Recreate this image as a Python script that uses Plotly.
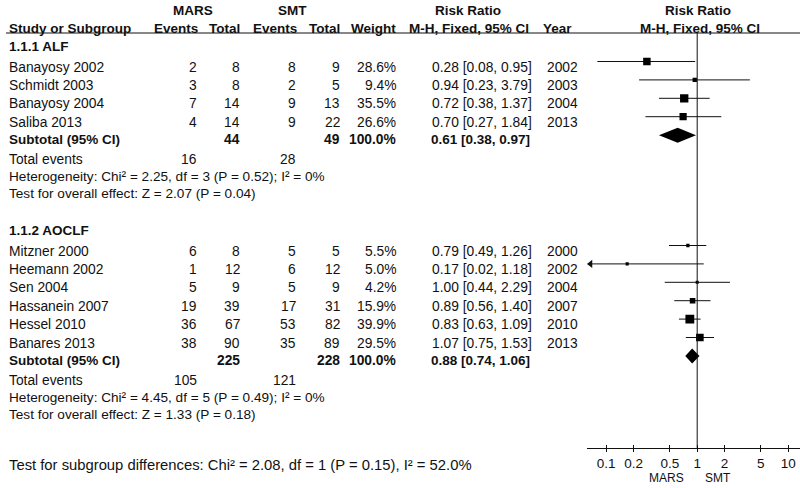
import numpy as np
import plotly.graph_objs as go

# ---- values ----
alf_studies = ["Banayosy 2002", "Schmidt 2003", "Banayosy 2004", "Saliba 2013"]
alf_mars_events = [2, 3, 7, 4]
alf_mars_total = [8, 8, 14, 14]
alf_smt_events = [8, 2, 9, 9]
alf_smt_total = [9, 5, 13, 22]
alf_weight = [28.6, 9.4, 35.5, 26.6]
alf_rr = [0.28, 0.94, 0.72, 0.70]
alf_lo = [0.08, 0.23, 0.38, 0.27]
alf_hi = [0.95, 3.79, 1.37, 1.84]
alf_year = [2002, 2003, 2004, 2013]
alf_sub = [0.61, 0.38, 0.97]
alf_het = "Heterogeneity: Chi² = 2.25, df = 3 (P = 0.52); I² = 0%"
alf_test = "Test for overall effect: Z = 2.07 (P = 0.04)"

aoclf_studies = ["Mitzner 2000", "Heemann 2002", "Sen 2004", "Hassanein 2007", "Hessel 2010", "Banares 2013"]
aoclf_mars_events = [6, 1, 5, 19, 36, 38]
aoclf_mars_total = [8, 12, 9, 39, 67, 90]
aoclf_smt_events = [5, 6, 5, 17, 53, 35]
aoclf_smt_total = [5, 12, 9, 31, 82, 89]
aoclf_weight = [5.5, 5.0, 4.2, 15.9, 39.9, 29.5]
aoclf_rr = [0.79, 0.17, 1.00, 0.89, 0.83, 1.07]
aoclf_lo = [0.49, 0.02, 0.44, 0.56, 0.63, 0.75]
aoclf_hi = [1.26, 1.18, 2.29, 1.40, 1.09, 1.53]
aoclf_year = [2000, 2002, 2004, 2007, 2010, 2013]
aoclf_sub = [0.88, 0.74, 1.06]
aoclf_het = "Heterogeneity: Chi² = 4.45, df = 5 (P = 0.49); I² = 0%"
aoclf_test = "Test for overall effect: Z = 1.33 (P = 0.18)"

subgroup_test = "Test for subgroup differences: Chi² = 2.08, df = 1 (P = 0.15), I² = 52.0%"

tick_vals = [0.1, 0.2, 0.5, 1, 2, 5, 10]
tick_text = ["0.1", "0.2", "0.5", "1", "2", "5", "10"]

# ---- page geometry (pixels) ----
W, H = 800, 488
FONT = "Liberation Sans, Arial, sans-serif"
SIZE = 13.8
HEAD = 13.5
INK = "#111111"
AXIS_Y = 448          # row of the forest x axis
X_ONE = 697.2         # pixel column of RR = 1
PX_DEC = 91.0         # pixels per decade
X_LEFT = 587.3        # left end of the forest axis
log_min = (X_LEFT - X_ONE) / PX_DEC
log_max = (W - X_ONE) / PX_DEC
MARK_UP = 5.5         # marks sit a little above the text centre

annotations = []


def text(x, y, s, anchor="right", bold=False, size=SIZE):
    annotations.append(dict(
        x=x, y=y, xref="x", yref="y", text="<b>%s</b>" % s if bold else s,
        xanchor=anchor, yanchor="middle", showarrow=False,
        font=dict(family=FONT, size=size, color=INK)
    ))


def ci_label(rr, lo, hi):
    return "%.2f [%.2f, %.2f]" % (rr, lo, hi)


traces = []


def draw_group(title, top, studies, me, mt, se, st, w, rr, lo, hi, yr, sub, het, test):
    text(7, top, title, anchor="left", bold=True, size=HEAD)
    rows = [top + 21 + 18.4 * i for i in range(len(studies))]
    for i, y in enumerate(rows):
        text(7, y, studies[i], anchor="left")
        text(199, y, str(me[i]))
        text(242, y, str(mt[i]))
        text(298, y, str(se[i]))
        text(342, y, str(st[i]))
        text(398, y, "%.1f%%" % w[i])
        text(534, y, ci_label(rr[i], lo[i], hi[i]))
        text(545, y, str(yr[i]), anchor="left")

        ym = y - MARK_UP
        x0 = lo[i]
        if np.log10(x0) < log_min:
            x0 = 10 ** log_min
            # arrow head for a clipped interval
            traces.append(go.Scatter(
                x=[10 ** (log_min + 3.2 / PX_DEC)], y=[ym], xaxis="x2", yaxis="y2",
                mode="markers", marker=dict(symbol="triangle-left", size=7, color=INK),
                hoverinfo="none", showlegend=False
            ))
        traces.append(go.Scatter(
            x=[x0, hi[i]], y=[ym, ym], xaxis="x2", yaxis="y2", mode="lines",
            line=dict(color=INK, width=1), hoverinfo="none", showlegend=False
        ))
        traces.append(go.Scatter(
            x=[rr[i]], y=[ym], xaxis="x2", yaxis="y2", mode="markers",
            marker=dict(symbol="square", size=max(3, 1.4 * np.sqrt(w[i])), color="#000000",
                        line=dict(width=0)),
            hoverinfo="none", showlegend=False
        ))

    ys = rows[-1] + 17.5
    text(7, ys, "Subtotal (95% CI)", anchor="left", bold=True, size=HEAD)
    text(242, ys, str(sum(mt)), bold=True)
    text(342, ys, str(sum(st)), bold=True)
    text(398, ys, "100.0%", bold=True)
    text(532, ys, ci_label(*sub), bold=True, size=HEAD)
    yd = ys - 4.5
    traces.append(go.Scatter(
        x=[sub[1], sub[0], sub[2], sub[0], sub[1]],
        y=[yd, yd - 7.5, yd, yd + 7.5, yd], xaxis="x2", yaxis="y2",
        mode="lines", fill="toself", fillcolor="#000000", line=dict(width=0, color="#000000"),
        hoverinfo="none", showlegend=False
    ))

    ye = ys + 19.5
    text(7, ye, "Total events", anchor="left")
    text(199, ye, str(sum(me)))
    text(298, ye, str(sum(se)))
    text(7, ye + 17.5, het, anchor="left", size=13.6)
    text(7, ye + 34.5, test, anchor="left", size=13.6)


# header
for x, s in [(193, "MARS"), (292, "SMT"), (468, "Risk Ratio"), (697.5, "Risk Ratio")]:
    text(x, 10, s, anchor="center", bold=True, size=HEAD)
text(7, 28, "Study or Subgroup", anchor="left", bold=True, size=HEAD)
for x, s in [(200, "Events"), (242, "Total"), (299, "Events"), (342, "Total"),
             (398, "Weight"), (531, "M-H, Fixed, 95% CI"), (574, "Year")]:
    text(x, 28, s, bold=True, size=HEAD)
text(699.5, 28, "M-H, Fixed, 95% CI", anchor="center", bold=True, size=HEAD)

draw_group("1.1.1 ALF", 46, alf_studies, alf_mars_events, alf_mars_total, alf_smt_events,
           alf_smt_total, alf_weight, alf_rr, alf_lo, alf_hi, alf_year, alf_sub, alf_het, alf_test)
draw_group("1.1.2 AOCLF", 230, aoclf_studies, aoclf_mars_events, aoclf_mars_total, aoclf_smt_events,
           aoclf_smt_total, aoclf_weight, aoclf_rr, aoclf_lo, aoclf_hi, aoclf_year, aoclf_sub,
           aoclf_het, aoclf_test)

text(7, 465, subgroup_test, anchor="left", size=14.8)
text(686, 478, "MARS", anchor="right", size=12)
text(703, 478, "SMT", anchor="left", size=12)

# line of no effect
traces.append(go.Scatter(
    x=[1, 1], y=[33, AXIS_Y], xaxis="x2", yaxis="y2", mode="lines",
    line=dict(color=INK, width=1), hoverinfo="none", showlegend=False
))
# anchors for the pixel frame and the upper tick marks
traces.append(go.Scatter(x=[0], y=[0], mode="markers", marker=dict(opacity=0),
                         hoverinfo="none", showlegend=False))
traces.append(go.Scatter(x=[1], y=[0], xaxis="x3", yaxis="y2", mode="markers",
                         marker=dict(opacity=0), hoverinfo="none", showlegend=False))

fig = go.Figure(data=traces)
fig.update_layout(
    width=W, height=H, margin=dict(l=0, r=0, t=0, b=0),
    paper_bgcolor="white", plot_bgcolor="white",
    annotations=annotations,
    xaxis=dict(range=[0, W], domain=[0, 1], visible=False, fixedrange=True),
    yaxis=dict(range=[H, 0], domain=[0, 1], visible=False, fixedrange=True),
    xaxis2=dict(type="log", range=[log_min, log_max], domain=[X_LEFT / W, 1], anchor="y2",
                showline=True, linecolor=INK, linewidth=1, showgrid=False, zeroline=False,
                ticks="outside", ticklen=3, tickcolor=INK, tickwidth=1,
                tickvals=tick_vals, ticktext=tick_text, fixedrange=True,
                tickfont=dict(family=FONT, size=13.5, color=INK)),
    xaxis3=dict(type="log", range=[log_min, log_max], overlaying="x2", anchor="y2",
                showline=False, showgrid=False, zeroline=False, showticklabels=False,
                ticks="inside", ticklen=3, tickcolor=INK, tickwidth=1, tickvals=tick_vals,
                fixedrange=True),
    yaxis2=dict(range=[AXIS_Y, 0], domain=[(H - AXIS_Y) / H, 1], visible=False, fixedrange=True),
    shapes=[dict(type="line", xref="x", yref="y", x0=6, x1=W, y0=33, y1=33,
                 line=dict(color=INK, width=1))],
    showlegend=False
)

# the page body has a default 8px margin; drop it so the figure fills the window
fig.write_html("out.html", config={"displayModeBar": False},
               post_script="document.body.style.margin='0';")
